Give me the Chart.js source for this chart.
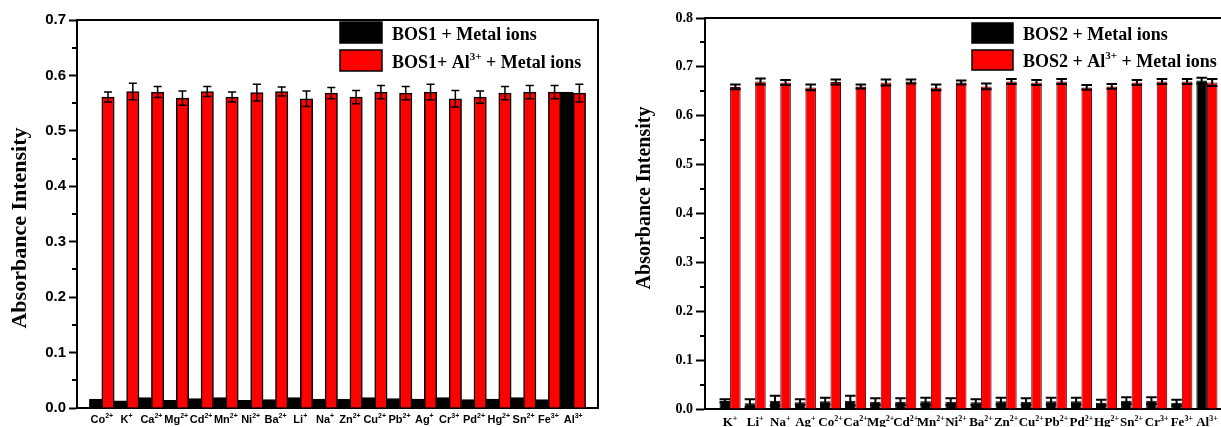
<!DOCTYPE html>
<html>
<head>
<meta charset="utf-8">
<script src="https://cdn.jsdelivr.net/npm/chart.js@4.4.1/dist/chart.umd.min.js"></script>
<style>
  html, body { margin: 0; padding: 0; background: #fff; overflow: hidden; }
  #panel1 { position: absolute; left: 0; top: 0; width: 610px; height: 427px; }
  #panel2 { position: absolute; left: 610px; top: 0; width: 640px; height: 427px; }
</style>
</head>
<body>
<div id="panel1"><canvas id="bos1Chart"></canvas></div>
<div id="panel2"><canvas id="bos2Chart"></canvas></div>
<script>
// ---- BOS1 panel ----
var ions1    = ["Co", "K", "Ca", "Mg", "Cd", "Mn", "Ni", "Ba", "Li", "Na", "Zn", "Cu", "Pb", "Ag", "Cr", "Pd", "Hg", "Sn", "Fe", "Al"];
var charges1 = ["2+", "+", "2+", "2+", "2+", "2+", "2+", "2+", "+", "+", "2+", "2+", "2+", "+", "3+", "2+", "2+", "2+", "3+", "3+"];
var bos1Metal   = [0.016, 0.013, 0.019, 0.014, 0.017, 0.019, 0.014, 0.015, 0.019, 0.016, 0.016, 0.019, 0.017, 0.016, 0.019, 0.015, 0.016, 0.019, 0.015, 0.570];
var bos1AlMetal = [0.561, 0.571, 0.570, 0.559, 0.571, 0.561, 0.569, 0.571, 0.558, 0.568, 0.561, 0.570, 0.568, 0.570, 0.558, 0.561, 0.568, 0.570, 0.570, 0.568];
var bos1AlErr   = [0.009, 0.015, 0.010, 0.013, 0.009, 0.009, 0.015, 0.008, 0.014, 0.010, 0.012, 0.012, 0.012, 0.014, 0.015, 0.011, 0.012, 0.012, 0.012, 0.016];
var yTicks1 = [0.0, 0.1, 0.2, 0.3, 0.4, 0.5, 0.6, 0.7];

// ---- BOS2 panel ----
var ions2    = ["K", "Li", "Na", "Ag", "Co", "Ca", "Mg", "Cd", "Mn", "Ni", "Ba", "Zn", "Cu", "Pb", "Pd", "Hg", "Sn", "Cr", "Fe", "Al"];
var charges2 = ["+", "+", "+", "+", "2+", "2+", "2+", "2+", "2+", "2+", "2+", "2+", "2+", "2+", "2+", "2+", "2+", "3+", "3+", "3+"];
var bos2Metal    = [0.017, 0.012, 0.017, 0.014, 0.016, 0.017, 0.015, 0.015, 0.016, 0.015, 0.014, 0.016, 0.015, 0.016, 0.016, 0.013, 0.017, 0.017, 0.013, 0.672];
var bos2MetalErr = [0.003, 0.008, 0.010, 0.006, 0.007, 0.010, 0.007, 0.007, 0.007, 0.007, 0.006, 0.007, 0.007, 0.007, 0.007, 0.006, 0.007, 0.007, 0.006, 0.006];
var bos2AlMetal  = [0.659, 0.670, 0.668, 0.658, 0.669, 0.660, 0.668, 0.670, 0.658, 0.668, 0.660, 0.670, 0.668, 0.670, 0.658, 0.660, 0.668, 0.670, 0.670, 0.668];
var bos2AlErr    = [0.005, 0.006, 0.005, 0.006, 0.005, 0.004, 0.006, 0.004, 0.006, 0.004, 0.006, 0.005, 0.005, 0.005, 0.005, 0.005, 0.005, 0.005, 0.005, 0.007];
var yTicks2 = [0.0, 0.1, 0.2, 0.3, 0.4, 0.5, 0.6, 0.7, 0.8];

// bars sit at x = 1..20 on a 0..21 axis
function points(values) {
  return values.map(function (v, i) { return { x: i + 1, y: v }; });
}

// text runs with raised superscript pieces: [[text, isSup], ...]
function richText(ctx, parts, x, y, font, supFont, rise, center) {
  var w = 0;
  parts.forEach(function (p) { ctx.font = p[1] ? supFont : font; w += ctx.measureText(p[0]).width; });
  var cx = center ? x - w / 2 : x;
  parts.forEach(function (p) {
    ctx.font = p[1] ? supFont : font;
    ctx.fillText(p[0], cx, p[1] ? y - rise : y);
    cx += ctx.measureText(p[0]).width;
  });
}

var panelDecor = {
  id: 'panelDecor',
  afterDatasetsDraw: function (chart) {
    var ctx = chart.ctx, ys = chart.scales.y;
    chart.data.datasets.forEach(function (ds, i) {
      if (!ds.errors) return;
      var meta = chart.getDatasetMeta(i);
      ctx.save();
      ctx.strokeStyle = '#000';
      ctx.lineWidth = ds.errorWidth;
      meta.data.forEach(function (bar, j) {
        var v = ds.data[j].y, e = ds.errors[j];
        var top = ys.getPixelForValue(v + e), bot = ys.getPixelForValue(v - e);
        var half = bar.width * ds.capRatio / 2;
        ctx.beginPath();
        ctx.moveTo(bar.x, top); ctx.lineTo(bar.x, bot);
        ctx.moveTo(bar.x - half, top); ctx.lineTo(bar.x + half, top);
        ctx.moveTo(bar.x - half, bot); ctx.lineTo(bar.x + half, bot);
        ctx.stroke();
      });
      ctx.restore();
    });
  },
  afterDraw: function (chart, args, o) {
    var ctx = chart.ctx, a = chart.chartArea, ys = chart.scales.y, xs = chart.scales.x;
    ctx.save();
    ctx.strokeStyle = '#000';
    ctx.fillStyle = '#000';
    ctx.lineWidth = 2;

    // frame top (and right)
    ctx.beginPath();
    ctx.moveTo(a.left, a.top); ctx.lineTo(a.right, a.top);
    if (o.frameRight) ctx.lineTo(a.right, a.bottom);
    ctx.stroke();

    // minor ticks between the labelled ones
    ctx.beginPath();
    for (var v = 0.05; v < ys.max; v += 0.1) {
      var py = Math.round(ys.getPixelForValue(v));
      ctx.moveTo(a.left - 5, py); ctx.lineTo(a.left, py);
    }
    ctx.stroke();

    // ion labels under each group
    ctx.textAlign = 'left';
    ctx.textBaseline = 'alphabetic';
    o.ions.forEach(function (ion, i) {
      richText(ctx, [[ion, false], [o.charges[i], true]], xs.getPixelForValue(i + 1), o.labelY,
        o.labelFont, o.labelSupFont, o.labelRise, true);
    });

    // legend
    chart.data.datasets.forEach(function (ds, i) {
      var L = o.legend;
      var sy = L.y + i * L.rowGap;
      ctx.fillStyle = ds.backgroundColor;
      ctx.fillRect(L.x, sy, L.w, L.h);
      ctx.lineWidth = 1.5;
      ctx.strokeRect(L.x, sy, L.w, L.h);
      ctx.fillStyle = '#000';
      richText(ctx, ds.legendParts, L.textX, sy + L.baseline, L.font, L.supFont, L.rise, false);
    });

    // y axis title
    ctx.translate(o.titleX, o.titleY);
    ctx.rotate(-Math.PI / 2);
    ctx.textAlign = 'center';
    ctx.textBaseline = 'middle';
    ctx.font = o.titleFont;
    ctx.fillText('Absorbance Intensity', 0, 0);
    ctx.restore();
  }
};

function makeChart(id, cfg) {
  return new Chart(id, {
    type: 'bar',
    data: {
      datasets: [{
        legendParts: cfg.legend1,
        backgroundColor: '#000000',
        borderColor: '#000000',
        borderWidth: cfg.barBorder,
        data: points(cfg.free),
        errors: cfg.freeErr,
        errorWidth: cfg.errorWidth,
        capRatio: cfg.capRatio
      }, {
        legendParts: cfg.legend2,
        backgroundColor: '#ff0000',
        borderColor: cfg.redBorder,
        borderWidth: cfg.barBorder,
        data: points(cfg.withAl),
        errors: cfg.withAlErr,
        errorWidth: cfg.errorWidth,
        capRatio: cfg.capRatio
      }]
    },
    options: {
      responsive: true,
      maintainAspectRatio: false,
      animation: false,
      categoryPercentage: cfg.catPct,
      barPercentage: 1,
      layout: { padding: { left: 0, top: cfg.area.top, right: cfg.area.padRight, bottom: 0 } },
      plugins: {
        legend: { display: false },
        tooltip: { enabled: false },
        panelDecor: cfg.decor
      },
      scales: {
        x: {
          type: 'linear',
          min: 0,
          max: 21,
          offset: false,
          ticks: { display: false, stepSize: 1 },
          grid: { display: false },
          border: { display: true, color: '#000', width: 2 },
          afterFit: function (s) { s.height = cfg.area.xHeight; }
        },
        y: {
          min: 0,
          max: cfg.yTicks[cfg.yTicks.length - 1],
          afterBuildTicks: function (s) { s.ticks = cfg.yTicks.map(function (t) { return { value: t }; }); },
          afterFit: function (s) { s.width = cfg.area.left; },
          ticks: {
            color: '#000',
            padding: 3,
            font: cfg.tickFont,
            callback: function (v) { return v.toFixed(1); }
          },
          grid: { display: true, drawOnChartArea: false, drawTicks: true, tickLength: cfg.tickLen, tickWidth: 2, tickColor: '#000' },
          border: { display: true, color: '#000', width: 2 }
        }
      }
    },
    plugins: [panelDecor]
  });
}

makeChart('bos1Chart', {
  free: bos1Metal, freeErr: null,
  withAl: bos1AlMetal, withAlErr: bos1AlErr,
  legend1: [['BOS1 + Metal ions', false]],
  legend2: [['BOS1+ Al', false], ['3+', true], [' + Metal ions', false]],
  yTicks: yTicks1,
  catPct: 1.0,
  barBorder: 1.5,
  redBorder: '#000000',
  errorWidth: 1.5,
  capRatio: 0.65,
  tickLen: 8,
  tickFont: { family: '"Liberation Sans", Arial, sans-serif', size: 15, weight: 'bold' },
  area: { left: 77, top: 20, padRight: 12, xHeight: 19 },
  decor: {
    frameRight: true,
    ions: ions1, charges: charges1,
    labelY: 423,
    labelFont: 'bold 11px "Liberation Sans", Arial, sans-serif',
    labelSupFont: 'bold 7px "Liberation Sans", Arial, sans-serif',
    labelRise: 5,
    titleX: 20, titleY: 228,
    titleFont: 'bold 22px "Liberation Serif", "Times New Roman", serif',
    legend: {
      x: 340, y: 22, w: 42, h: 21, rowGap: 28, textX: 392, baseline: 18,
      font: 'bold 18px "Liberation Serif", "Times New Roman", serif',
      supFont: 'bold 11px "Liberation Serif", "Times New Roman", serif',
      rise: 8
    }
  }
});

makeChart('bos2Chart', {
  free: bos2Metal, freeErr: bos2MetalErr,
  withAl: bos2AlMetal, withAlErr: bos2AlErr,
  legend1: [['BOS2 + Metal ions', false]],
  legend2: [['BOS2 + Al', false], ['3+', true], [' + Metal ions', false]],
  yTicks: yTicks2,
  catPct: 0.84,
  barBorder: 1,
  redBorder: '#5a0000',
  errorWidth: 2,
  capRatio: 1.0,
  tickLen: 9,
  tickFont: { family: '"Liberation Serif", "Times New Roman", serif', size: 14, weight: 'bold' },
  area: { left: 95, top: 18, padRight: 18, xHeight: 18 },
  decor: {
    frameRight: true,
    ions: ions2, charges: charges2,
    labelY: 426,
    labelFont: 'bold 13px "Liberation Serif", "Times New Roman", serif',
    labelSupFont: 'bold 8px "Liberation Serif", "Times New Roman", serif',
    labelRise: 5,
    titleX: 35, titleY: 198,
    titleFont: 'bold 20px "Liberation Serif", "Times New Roman", serif',
    legend: {
      x: 362, y: 23, w: 41, h: 20, rowGap: 27, textX: 413, baseline: 17,
      font: 'bold 18px "Liberation Serif", "Times New Roman", serif',
      supFont: 'bold 11px "Liberation Serif", "Times New Roman", serif',
      rise: 8
    }
  }
});
</script>
</body>
</html>
